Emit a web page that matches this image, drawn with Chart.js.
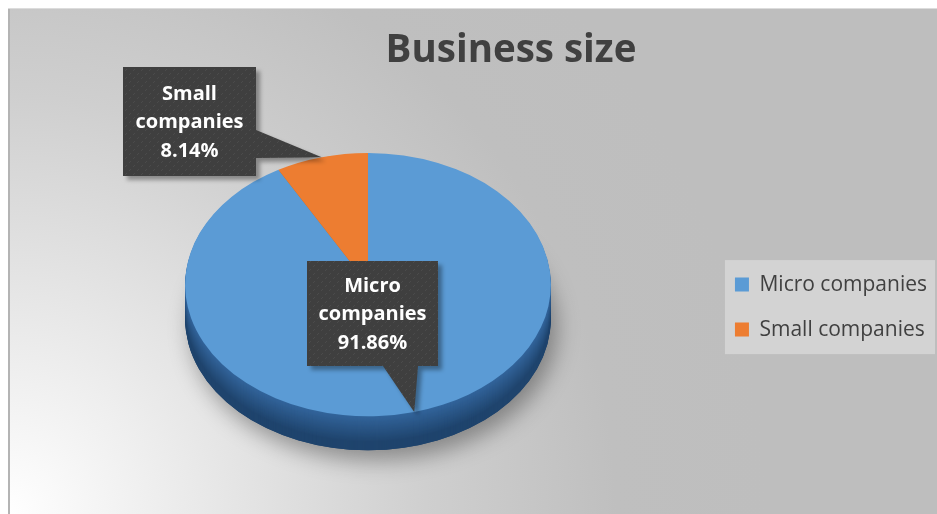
<!DOCTYPE html>
<html>
<head>
<meta charset="utf-8">
<script src="https://cdn.jsdelivr.net/npm/chart.js@4/dist/chart.umd.min.js"></script>
<style>
    body {
        margin: 0;
        background: #ffffff;
    }
    #chart {
        display: block;
    }
</style>
</head>
<body>
<canvas id="chart" width="937" height="514"></canvas>
<script>
const categories = ['Micro companies', 'Small companies'];
const shares = [91.86, 8.14];
const sliceColors = ['#5b9bd5', '#ed7d31'];
const sideColors = [['#33659c', '#1f446d'], ['#c0621f', '#8e4514']];

// callout box for each slice: box centre relative to the slice tip, box size,
// and where the pointer leaves the box ('right' or 'bottom', from/to along that edge)
const callouts = [
    { dx: -42, dy: -99, w: 131, h: 105, edge: 'bottom', from: 76, to: 111 },
    { dx: -132, dy: -36, w: 133, h: 109, edge: 'right', from: 63, to: 91 },
];

function mix(a, b, t) {
    const pa = [1, 3, 5].map(k => parseInt(a.substr(k, 2), 16));
    const pb = [1, 3, 5].map(k => parseInt(b.substr(k, 2), 16));
    const c = pa.map((v, k) => Math.round(v + (pb[k] - v) * t));
    return 'rgb(' + c.join(',') + ')';
}

// faint speckle used inside the dark label boxes
function makeSpeckle(ctx) {
    const c = document.createElement('canvas');
    c.width = 8;
    c.height = 8;
    const p = c.getContext('2d');
    p.fillStyle = '#3f3f3f';
    p.fillRect(0, 0, 8, 8);
    p.fillStyle = '#4b4b4b';
    p.fillRect(1, 2, 1, 1);
    p.fillRect(2, 1, 1, 1);
    p.fillRect(5, 6, 1, 1);
    p.fillRect(6, 5, 1, 1);
    return ctx.createPattern(c, 'repeat');
}

const backdrop = {
    id: 'backdrop',
    beforeDraw(chart) {
        const ctx = chart.ctx;
        const W = chart.width, H = chart.height;
        ctx.save();
        ctx.fillStyle = '#ffffff';
        ctx.fillRect(0, 0, W, H);
        const g = ctx.createRadialGradient(8, H, 0, 8, H, 760);
        g.addColorStop(0, '#ffffff');
        g.addColorStop(0.22, '#ececec');
        g.addColorStop(0.55, '#cfcfcf');
        g.addColorStop(0.8, '#bfbfbf');
        g.addColorStop(1, '#bebebe');
        ctx.fillStyle = g;
        ctx.fillRect(8, 8, W - 8, H - 8);
        ctx.fillStyle = '#b4b4b4';
        ctx.fillRect(8, 8, 2, H - 8);
        ctx.fillStyle = '#dcdcdc';
        ctx.fillRect(8, 8, W - 8, 1);

        // legend panel
        const boxes = chart.legend.legendHitBoxes;
        if (boxes && boxes.length) {
            const top = boxes[0].top - 14;
            const last = boxes[boxes.length - 1];
            const bottom = last.top + last.height + 14;
            ctx.fillStyle = '#d3d3d3';
            ctx.fillRect(boxes[0].left - 10, top, W - boxes[0].left + 8, bottom - top);
        }
        ctx.restore();
    }
};

// tilts the pie into an ellipse and gives it a side wall
function tilt(ctx, cx, cy, opts) {
    ctx.translate(cx + opts.shift, cy - opts.lift);
    ctx.scale(1, opts.tilt);
    ctx.translate(-cx, -cy);
}

const pie3d = {
    id: 'pie3d',
    beforeDatasetsDraw(chart, args, opts) {
        const ctx = chart.ctx;
        const arcs = chart.getDatasetMeta(0).data;
        const cx = arcs[0].x, cy = arcs[0].y, r = arcs[0].outerRadius;

        // drop shadow under the whole disc
        ctx.save();
        ctx.translate(0, opts.depth);
        tilt(ctx, cx, cy, opts);
        ctx.shadowColor = 'rgba(0,0,0,0.35)';
        ctx.shadowBlur = 22;
        ctx.shadowOffsetX = 6;
        ctx.shadowOffsetY = 10;
        ctx.beginPath();
        ctx.arc(cx, cy, r, 0, Math.PI * 2);
        ctx.fillStyle = sideColors[0][1];
        ctx.fill();
        ctx.restore();

        for (let d = opts.depth; d >= 1; d--) {
            const t = d / opts.depth;
            arcs.forEach((arc, i) => {
                ctx.save();
                ctx.translate(0, d);
                tilt(ctx, cx, cy, opts);
                ctx.beginPath();
                ctx.moveTo(arc.x, arc.y);
                ctx.arc(arc.x, arc.y, arc.outerRadius, arc.startAngle, arc.endAngle);
                ctx.closePath();
                ctx.fillStyle = mix(sideColors[i][0], sideColors[i][1], Math.min(1, t * 1.3));
                ctx.fill();
                ctx.restore();
            });
        }

        ctx.save();
        tilt(ctx, cx, cy, opts);
    },
    afterDatasetsDraw(chart, args, opts) {
        const ctx = chart.ctx;
        ctx.restore();

        const arcs = chart.getDatasetMeta(0).data;
        const speckle = makeSpeckle(ctx);
        arcs.forEach((arc, i) => {
            const mid = (arc.startAngle + arc.endAngle) / 2;
            const tipX = arc.x + opts.shift + arc.outerRadius * Math.cos(mid);
            const tipY = arc.y - opts.lift + opts.tilt * arc.outerRadius * Math.sin(mid);
            const c = callouts[i];
            const left = Math.round(tipX + c.dx - c.w / 2);
            const top = Math.round(tipY + c.dy - c.h / 2);

            ctx.save();
            ctx.beginPath();
            ctx.rect(left, top, c.w, c.h);
            if (c.edge === 'bottom') {
                ctx.moveTo(left + c.from, top + c.h);
                ctx.lineTo(tipX, tipY);
                ctx.lineTo(left + c.to, top + c.h);
            } else {
                ctx.moveTo(left + c.w, top + c.from);
                ctx.lineTo(tipX, tipY);
                ctx.lineTo(left + c.w, top + c.to);
            }
            ctx.closePath();
            ctx.shadowColor = 'rgba(0,0,0,0.35)';
            ctx.shadowBlur = 4;
            ctx.shadowOffsetX = 4;
            ctx.shadowOffsetY = 4;
            ctx.fillStyle = speckle;
            ctx.fill();
            ctx.restore();

            const lines = categories[i].split(' ').concat([shares[i].toFixed(2) + '%']);
            ctx.save();
            ctx.fillStyle = '#ffffff';
            ctx.font = 'bold 20px "Open Sans"';
            ctx.textAlign = 'center';
            ctx.textBaseline = 'middle';
            const lh = 28.5;
            const y0 = top + c.h / 2 - lh * (lines.length - 1) / 2 + 1;
            lines.forEach((line, k) => {
                ctx.fillText(line, left + c.w / 2, y0 + k * lh);
            });
            ctx.restore();
        });
    }
};

new Chart(document.getElementById('chart'), {
    type: 'pie',
    data: {
        labels: categories,
        datasets: [{
            data: shares,
            backgroundColor: sliceColors,
            borderWidth: 0,
        }]
    },
    options: {
        responsive: false,
        animation: false,
        devicePixelRatio: 1,
        events: [],
        layout: {
            padding: { top: 8, left: 85, right: 0, bottom: 24 }
        },
        plugins: {
            pie3d: { tilt: 0.72, depth: 34, lift: 22.5, shift: -30 },
            title: {
                display: true,
                text: 'Business size',
                color: '#404040',
                font: { family: '"Open Sans"', size: 38.5, weight: 'bold' },
                padding: { top: 20, bottom: 50 }
            },
            legend: {
                position: 'right',
                fullSize: false,
                labels: {
                    boxWidth: 14,
                    boxHeight: 14,
                    padding: 24,
                    color: '#404040',
                    font: { family: '"Open Sans"', size: 21 }
                }
            },
            tooltip: { enabled: false }
        }
    },
    plugins: [backdrop, pie3d]
});
</script>
</body>
</html>
